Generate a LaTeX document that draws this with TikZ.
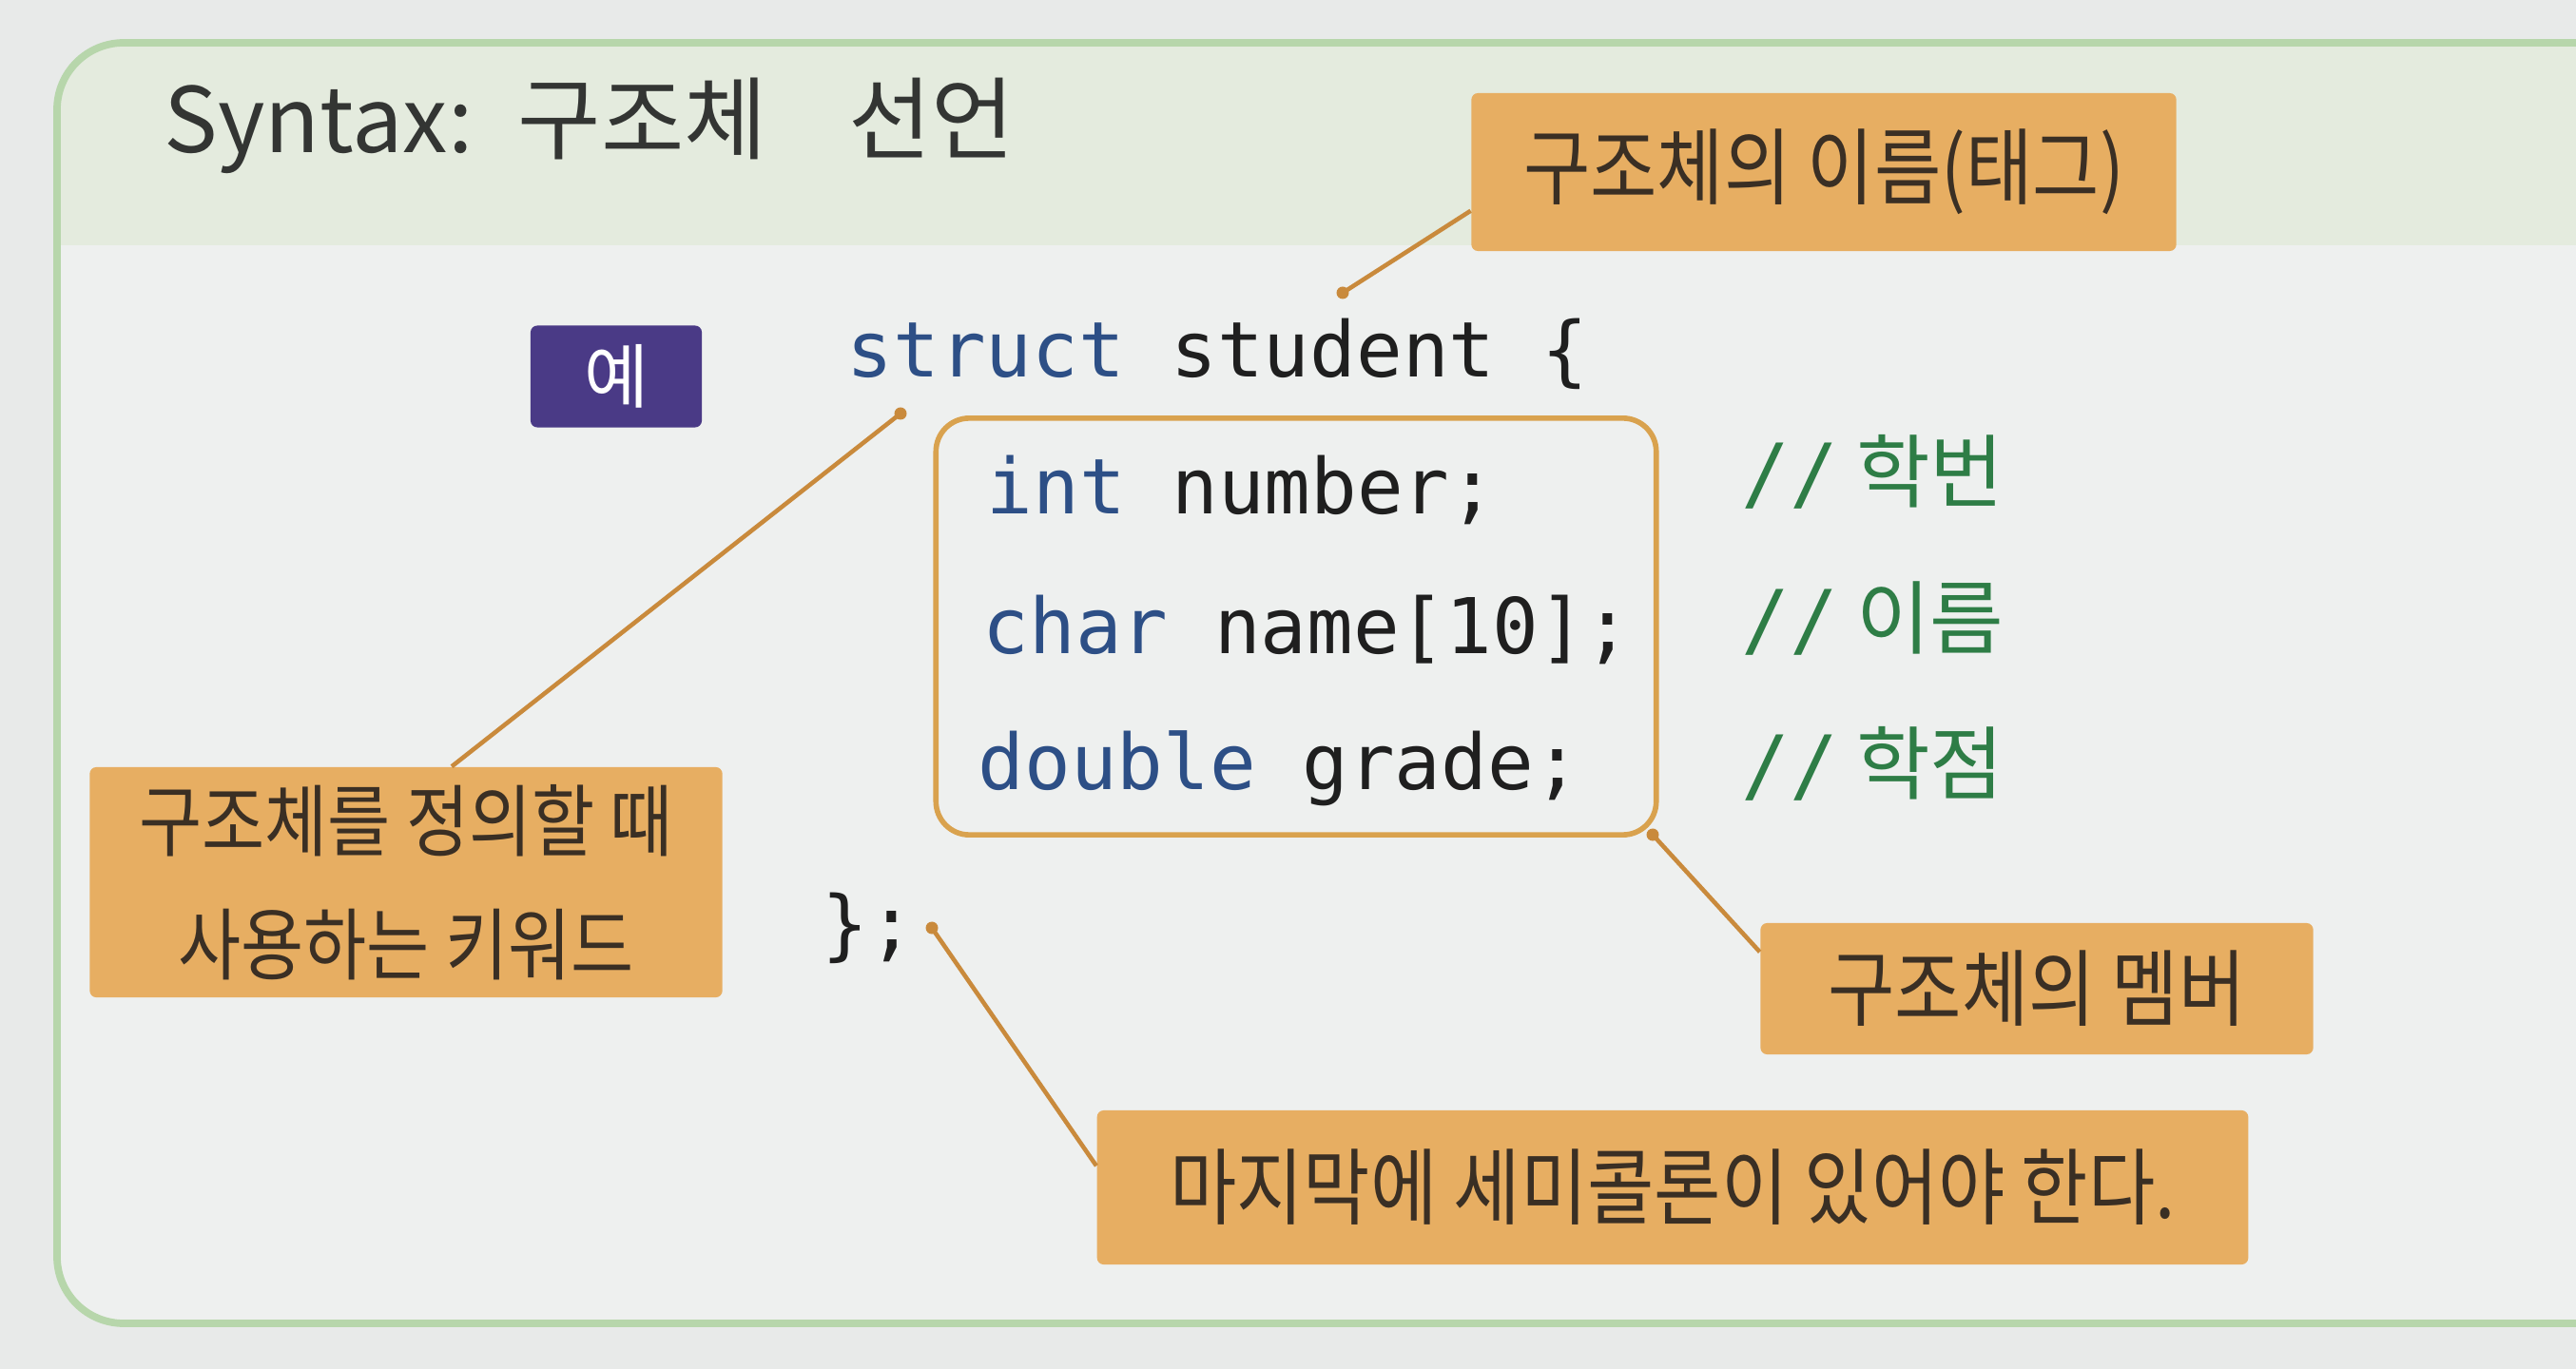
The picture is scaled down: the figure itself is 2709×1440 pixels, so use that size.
\documentclass[tikz,border=0pt]{standalone}
\usepackage{fontspec}
\setmainfont{Noto Sans CJK KR}
\newfontfamily\codefont{DejaVu Sans Mono}
\newfontfamily\callfont[FakeStretch=0.87]{Noto Sans CJK KR}
\usetikzlibrary{calc}
\definecolor{pagebg}{HTML}{E8EAE9}
\definecolor{framegreen}{HTML}{B7D6AB}
\definecolor{headfill}{HTML}{E4EBDE}
\definecolor{bodyfill}{HTML}{EEF0EF}
\definecolor{callfill}{HTML}{E7AE62}
\definecolor{calltext}{HTML}{3A2F24}
\definecolor{leadcol}{HTML}{C98A3C}
\definecolor{boxorange}{HTML}{D9A24E}
\definecolor{purplebox}{HTML}{4A3A86}
\definecolor{kwblue}{HTML}{2D4F86}
\definecolor{idblack}{HTML}{1F1F1F}
\definecolor{cmtgreen}{HTML}{2E7D46}
\definecolor{titletext}{HTML}{333533}
\tikzset{
  callout/.style={fill=callfill, draw=none, rounded corners=2pt, text=calltext,
    font=\callfont\fontsize{25pt}{37pt}\selectfont, align=center, inner sep=0pt},
  leader/.style={draw=leadcol, line width=1.3pt},
  leaddot/.style={circle, fill=leadcol, inner sep=0pt, minimum size=0.13cm},
  codeline/.style={anchor=west, inner sep=0pt, text=idblack,
    font=\codefont\fontsize{23pt}{27pt}\selectfont},
  cmt/.style={anchor=west, inner sep=0pt, text=cmtgreen,
    font=\fontsize{24pt}{28pt}\selectfont},
}
\newcommand{\kw}[1]{\textcolor{kwblue}{#1}}
\begin{document}
\begin{tikzpicture}[x=0.01cm,y=-0.01cm]
\useasboundingbox (0,0) rectangle (2709,1440);
\clip (0,0) rectangle (2709,1440);
\fill[pagebg] (0,0) rectangle (2709,1440);
% frame
\fill[bodyfill, rounded corners=0.7cm] (60,45) rectangle (2800,1392);
\begin{scope}
  \clip[rounded corners=0.7cm] (60,45) rectangle (2800,1392);
  \fill[headfill] (0,0) rectangle (2800,258);
\end{scope}
\draw[framegreen, line width=2.2pt, rounded corners=0.7cm] (60,45) rectangle (2800,1392);
% title
\node[anchor=west, inner sep=0pt, text=titletext, font=\fontsize{27pt}{30pt}\selectfont]
  (title) at (172,132) {Syntax:\hspace{0.5em}구조체\hspace{0.9em}선언};
% example badge
\node[fill=purplebox, rounded corners=2pt, text=white, minimum width=1.80cm, minimum height=1.07cm,
  inner sep=0pt, font=\fontsize{21pt}{24pt}\selectfont] (ex) at (648,396) {예};
% code
\node[codeline] (l1) at (890,372) {\kw{struct} student \{};
\node[draw=boxorange, line width=1.6pt, rounded corners=0.35cm, minimum width=7.57cm,
  minimum height=4.38cm, inner sep=0pt] (members) at (1363,659) {};
\node[codeline] (l2) at (1037,515) {\kw{int} number;};
\node[codeline] (l3) at (1033,662) {\kw{char} name[10];};
\node[codeline] (l4) at (1028,808) {\kw{double} grade;};
\node[codeline] (l5) at (864,976) {\};};
\node[cmt] (c1) at (1831,496) {{\codefont //}\ 학번};
\node[cmt] (c2) at (1831,651) {{\codefont //}\ 이름};
\node[cmt] (c3) at (1831,803) {{\codefont //}\ 학점};
% callouts
\node[callout, minimum width=7.41cm, minimum height=1.66cm] (tag) at (1918,181) {구조체의 이름(태그)};
\node[callout, minimum width=6.65cm, minimum height=2.42cm, font=\callfont\fontsize{23.5pt}{37pt}\selectfont]
  (kwbox) at (427,928) {구조체를 정의할 때\\사용하는 키워드};
\node[callout, minimum width=5.81cm, minimum height=1.38cm] (mem) at (2142,1040) {구조체의 멤버};
\node[callout, minimum width=12.10cm, minimum height=1.62cm] (semi) at (1759,1249) {마지막에 세미콜론이 있어야 한다.};
% leader dots
\node[leaddot] (d1) at (1412,308) {};
\node[leaddot] (d2) at (947,435) {};
\node[leaddot] (d3) at (1738,878) {};
\node[leaddot] (d4) at (980,976) {};
% leaders
\draw[leader] (d1.center) -- ([yshift=0.43cm]tag.south west);
\draw[leader] (d2.center) -- ([xshift=0.48cm]kwbox.north);
\draw[leader] (d3.center) -- ([yshift=-0.31cm]mem.north west);
\draw[leader] (d4.center) -- ([yshift=-0.59cm]semi.north west);
\end{tikzpicture}
\end{document}
